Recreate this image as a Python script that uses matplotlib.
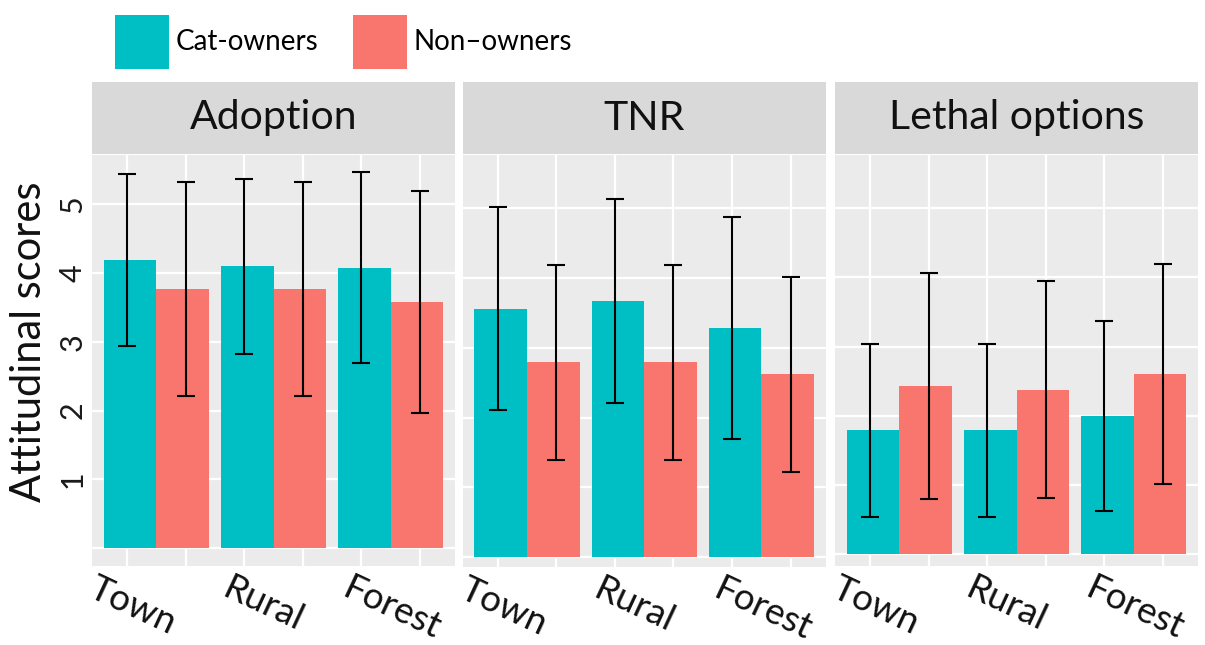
import matplotlib
matplotlib.use("Agg")
import matplotlib.pyplot as plt
from matplotlib.patches import Patch
import numpy as np

plt.rcParams['font.family'] = ['Lato', 'DejaVu Sans']

# ---- data -------------------------------------------------------------
categories = ["Town", "Rural", "Forest"]
facets = ["Adoption", "TNR", "Lethal options"]
groups = ["Cat-owners", "Non\u2013owners"]

owner_mean = [[4.19, 4.10, 4.08], [3.56, 3.67, 3.28], [1.79, 1.79, 2.00]]
owner_sd = [[1.25, 1.27, 1.39], [1.45, 1.46, 1.59], [1.25, 1.25, 1.37]]
nonowner_mean = [[3.77, 3.77, 3.58], [2.79, 2.79, 2.62], [2.43, 2.38, 2.60]]
nonowner_sd = [[1.55, 1.55, 1.61], [1.40, 1.40, 1.40], [1.63, 1.57, 1.59]]

yticks = [1, 2, 3, 4, 5]

# ---- style ------------------------------------------------------------
TEAL = "#00BFC4"
SALMON = "#F8766D"
PANEL_BG = "#EBEBEB"
STRIP_BG = "#D9D9D9"

W, H = 1205, 645
fig = plt.figure(figsize=(W / 100, H / 100), dpi=100)


def rect(l, t, r, b):
    return [l / W, 1 - b / H, (r - l) / W, (b - t) / H]


panel_boxes = [(92, 155, 455, 566), (462.7, 155, 825.7, 567), (835, 155, 1198, 566)]
panel_ylims = [(-0.26, 5.72), (-0.14, 5.76), (-0.17, 5.77)]
strip_top, strip_bottom = 82, 154
label_shift = [-0.5, -0.35, -0.33]   # left anchor of each rotated category label

x = np.arange(1, len(categories) + 1)
bar_w = 0.45
err_off = 0.25

for i, facet in enumerate(facets):
    l, t, r, b = panel_boxes[i]
    ax = fig.add_axes(rect(l, t, r, b))
    ax.set_facecolor(PANEL_BG)
    for s in ax.spines.values():
        s.set_visible(False)
    ax.set_xlim(0.45, 3.55)
    ax.set_ylim(*panel_ylims[i])

    # grid
    for gx in np.arange(0.75, 3.3, 0.5):
        ax.axvline(gx, color="white", lw=1.6, zorder=0)
    for gy in range(0, 6):
        ax.axhline(gy, color="white", lw=1.6, zorder=0)

    ax.bar(x - bar_w / 2, owner_mean[i], width=bar_w, color=TEAL, zorder=2)
    ax.bar(x + bar_w / 2, nonowner_mean[i], width=bar_w, color=SALMON, zorder=2)
    ax.errorbar(x - err_off, owner_mean[i], yerr=owner_sd[i], fmt="none",
                ecolor="black", elinewidth=1.5, capsize=6.5, capthick=1.5, zorder=3)
    ax.errorbar(x + err_off, nonowner_mean[i], yerr=nonowner_sd[i], fmt="none",
                ecolor="black", elinewidth=1.5, capsize=6.5, capthick=1.5, zorder=3)

    ax.set_xticks([])
    ax.tick_params(axis="y", length=0, pad=4)
    if i == 0:
        ax.set_yticks(yticks)
        ax.set_yticklabels([str(v) for v in yticks], rotation=90, va="center",
                           fontsize=22, color="#1a1a1a")
    else:
        ax.set_yticks([])

    for xc, cat, dx in zip(x, categories, label_shift):
        ax.text(xc + dx, -0.013, cat, transform=ax.get_xaxis_transform(),
                rotation=-25, rotation_mode="anchor", ha="left", va="top",
                fontsize=26.5, color="#111111")

    # facet strip
    sax = fig.add_axes(rect(l, strip_top, r, strip_bottom))
    sax.set_facecolor(STRIP_BG)
    sax.set_xticks([])
    sax.set_yticks([])
    for s in sax.spines.values():
        s.set_visible(False)
    sax.text(0.5, 0.5, facet, ha="center", va="center", fontsize=29.5,
             color="#111111", transform=sax.transAxes)

fig.text(29 / W, 1 - 342 / H, "Attitudinal scores", rotation=90,
         ha="center", va="center", fontsize=30, color="#111111")

handles = [Patch(facecolor=TEAL, edgecolor="none"),
           Patch(facecolor=SALMON, edgecolor="none")]
fig.legend(handles, groups, loc="upper left",
           bbox_to_anchor=(115 / W, 1 - 15 / H), ncol=2, frameon=False,
           fontsize=20, handlelength=1.95, handleheight=2.6,
           handletextpad=0.22, columnspacing=1.25, borderpad=0, borderaxespad=0)

fig.savefig("out.png", dpi=100, facecolor="white")
